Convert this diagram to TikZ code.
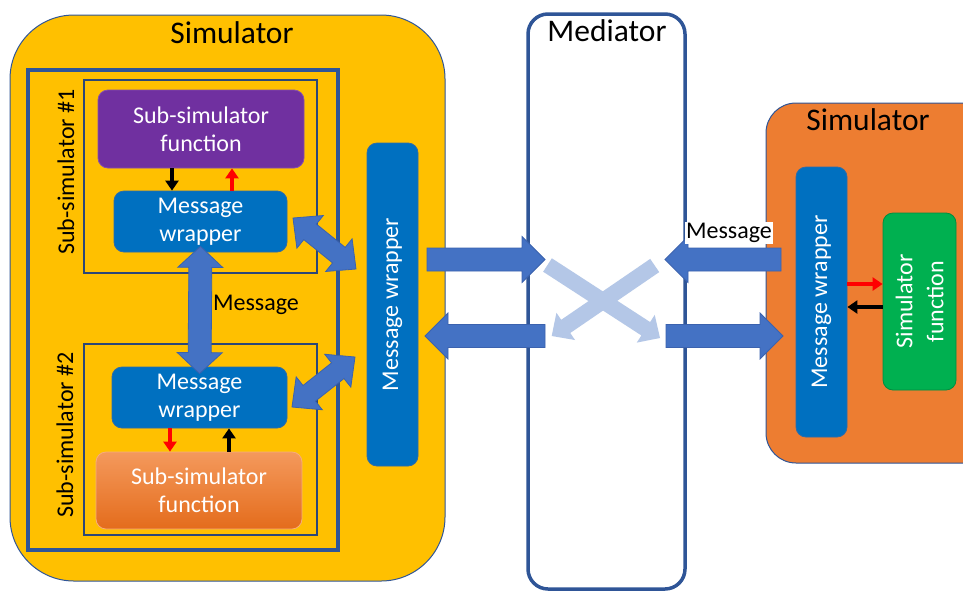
\documentclass[tikz,border=0pt]{standalone}
\usepackage{fontspec}
\setmainfont{Carlito}
\usetikzlibrary{calc,arrows.meta}

\definecolor{simyellow}{HTML}{FFC000}
\definecolor{simorange}{HTML}{ED7D31}
\definecolor{edgeblue}{HTML}{2F5597}
\definecolor{framedark}{HTML}{2B4778}
\definecolor{wrapblue}{HTML}{0070C0}
\definecolor{wrapedge}{HTML}{2E6BA8}
\definecolor{funcpurple}{HTML}{7030A0}
\definecolor{funcgreen}{HTML}{00B050}
\definecolor{blockblue}{HTML}{4472C4}
\definecolor{blockedge}{HTML}{3B62AE}
\definecolor{paleblue}{HTML}{B4C7E7}
\definecolor{orangetop}{HTML}{F4995C}
\definecolor{orangebot}{HTML}{E46C1C}

\tikzset{
  bodyfont/.style={font=\fontsize{24}{28}\selectfont},
  titlefont/.style={font=\fontsize{31.5}{36}\selectfont},
  plainbox/.style={rectangle, inner sep=0pt, align=center},
  simbox/.style={plainbox, draw=edgeblue, line width=1pt},
  funcbox/.style={plainbox, rounded corners=10pt, text=white, bodyfont, line width=0.8pt},
  wrapbox/.style={funcbox, fill=wrapblue, draw=wrapedge},
  subframe/.style={plainbox, draw=framedark, line width=2pt},
  sidelabel/.style={plainbox, rotate=90, bodyfont},
  thinarrow/.style={line width=3.2pt, -{Triangle[width=13pt,length=10pt]}},
  blockarrow/.style={fill=blockblue, draw=blockedge, line width=0.8pt, line join=miter},
  palearrow/.style={fill=paleblue},
}

% block arrow with heads at both ends: ends, shaft half width, head half width, head length
\newcommand\twowayblock[5]{%
  \coordinate (twa) at ($(#1)!#5!(#2)$);
  \coordinate (twb) at ($(#2)!#5!(#1)$);
  \path[blockarrow] (#1)
    -- ($(twa)!#4!90:(#2)$) -- ($(twa)!#3!90:(#2)$)
    -- ($(twb)!#3!-90:(#1)$) -- ($(twb)!#4!-90:(#1)$)
    -- (#2)
    -- ($(twb)!#4!90:(#1)$) -- ($(twb)!#3!90:(#1)$)
    -- ($(twa)!#3!-90:(#2)$) -- ($(twa)!#4!-90:(#2)$)
    -- cycle;}

% block arrow with a flat tail: style, tail, tip, shaft half width, head half width, head length
\newcommand\onewayblock[6]{%
  \coordinate (owb) at ($(#3)!#6!(#2)$);
  \path[#1] ($(#2)!#4!90:(#3)$)
    -- ($(owb)!#4!-90:(#2)$) -- ($(owb)!#5!-90:(#2)$)
    -- (#3)
    -- ($(owb)!#5!90:(#2)$) -- ($(owb)!#4!90:(#2)$)
    -- ($(#2)!#4!-90:(#3)$) -- cycle;}

\begin{document}
\begin{tikzpicture}[x=1pt, y=-1pt]
  \fill[white] (0,0) rectangle (963,590);
  \clip (0,0) rectangle (963,590);

  % ---------- left simulator ----------
  \node[simbox, fill=simyellow, rounded corners=64pt,
        minimum width=435pt, minimum height=566pt] (simL) at (227.5,298) {};
  \node[titlefont] (simLtitle) at (232,33) {Simulator};

  \node[plainbox, draw=edgeblue, line width=4pt,
        minimum width=310pt, minimum height=480pt] (frame) at (183,310) {};
  \node[subframe, minimum width=233pt, minimum height=193pt] (sub1) at (200.5,176.5) {};
  \node[subframe, minimum width=233pt, minimum height=191pt] (sub2) at (200.5,439.5) {};
  \node[sidelabel] (sub1lab) at (66,172) {Sub-simulator \#1};
  \node[sidelabel] (sub2lab) at (65,435) {Sub-simulator \#2};

  \node[funcbox, fill=funcpurple, draw=funcpurple!85!white,
        minimum width=206pt, minimum height=78pt] (pf1) at (201,129) {Sub-simulator\\function};
  \node[wrapbox, minimum width=173pt, minimum height=61pt] (mw1) at (200.5,221.5) {Message\\wrapper};
  \node[wrapbox, minimum width=175pt, minimum height=61pt] (mw2) at (199.5,397.5) {Message\\wrapper};
  \node[funcbox, top color=orangetop, bottom color=orangebot, draw=orangetop!80!white,
        minimum width=206pt, minimum height=77pt] (pf2) at (199,490.5) {Sub-simulator\\function};

  \node[wrapbox, rotate=90, minimum width=323pt, minimum height=51pt] (mwL) at (392.5,304.5) {Message wrapper};

  % calls between function and wrapper
  \draw[thinarrow, black] ([xshift=-29pt]pf1.south) -- ([xshift=-28.5pt]mw1.north);
  \draw[thinarrow, red]   ([xshift=31.5pt]mw1.north) -- ([xshift=31pt]pf1.south);
  \draw[thinarrow, red]   ([xshift=-29.5pt]mw2.south) -- ([xshift=-29pt]pf2.north);
  \draw[thinarrow, black] ([xshift=30pt]pf2.north) -- ([xshift=29.5pt]mw2.south);

  % exchange between the two sub-simulators
  \coordinate (v1) at ([yshift=6pt]mw1.south);
  \coordinate (v2) at ([yshift=-7pt]mw2.north);
  \twowayblock{v1}{v2}{11.5pt}{22.5pt}{21pt}
  \node[bodyfont] (msgL) at (256,305) {Message};

  % wrappers to the simulator's own wrapper
  \coordinate (d1a) at (293,218);
  \coordinate (d1b) at (356,269);
  \coordinate (d2a) at (292,407);
  \coordinate (d2b) at (355,357);
  \twowayblock{d1a}{d1b}{10pt}{21pt}{22pt}
  \twowayblock{d2a}{d2b}{10pt}{21pt}{22pt}

  % ---------- mediator ----------
  \node[plainbox, draw=edgeblue, line width=3.5pt, rounded corners=20pt,
        minimum width=157pt, minimum height=575pt] (med) at (606.5,301.5) {};
  \node[titlefont] (medtitle) at (607,31) {Mediator};

  % ---------- right simulator ----------
  \node[simbox, fill=simorange, rounded corners=30pt,
        minimum width=230pt, minimum height=360pt] (simR) at (881,283) {};
  \node[titlefont] (simRtitle) at (868,120) {Simulator};
  \node[wrapbox, rotate=90, minimum width=270pt, minimum height=51pt] (mwR) at (821.5,302) {Message wrapper};
  \node[funcbox, rotate=90, fill=funcgreen, draw=funcgreen!80!black,
        minimum width=177pt, minimum height=73pt,
        font=\fontsize{24}{31}\selectfont] (sfR) at (919.5,301.5) {Simulator\\function};
  \draw[thinarrow, red]   (mwR.south |- 0,284) -- (sfR.north |- 0,284);
  \draw[thinarrow, black] (sfR.north |- 0,307) -- (mwR.south |- 0,307);

  % ---------- messages through the mediator ----------
  \coordinate (h1a) at (427,259.5);
  \coordinate (h1b) at (545,259.5);
  \coordinate (h2a) at (545,336);
  \coordinate (h2b) at (425,336);
  \coordinate (h3a) at (781,259.5);
  \coordinate (h3b) at (665,259.5);
  \coordinate (h4a) at (666,336);
  \coordinate (h4b) at (783,336);
  \onewayblock{blockarrow}{h1a}{h1b}{11.5pt}{23pt}{23pt}
  \onewayblock{blockarrow}{h2a}{h2b}{11.5pt}{23pt}{23pt}
  \onewayblock{blockarrow}{h3a}{h3b}{11.5pt}{23pt}{23pt}
  \onewayblock{blockarrow}{h4a}{h4b}{11.5pt}{23pt}{23pt}

  \coordinate (x1a) at (547.5,265);
  \coordinate (x1b) at (660,338);
  \coordinate (x2a) at (654.7,265.5);
  \coordinate (x2b) at (551.7,336);
  \onewayblock{palearrow}{x1a}{x1b}{8pt}{16.5pt}{17pt}
  \onewayblock{palearrow}{x2a}{x2b}{8pt}{16.5pt}{17pt}

  \node[bodyfont, fill=white, inner sep=1pt] (msgR) at (729,233) {Message};
\end{tikzpicture}
\end{document}
